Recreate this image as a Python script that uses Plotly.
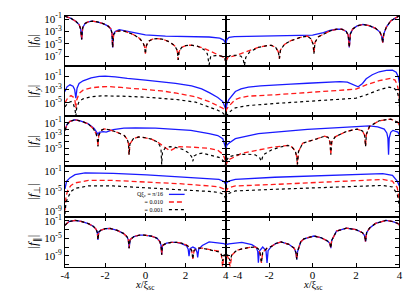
import plotly.graph_objects as go

W, H = 415, 291
FONT = "Liberation Serif"

# ---------------- data: (x, log10|f|) pairs ----------------
legend_text = "Q\u03be<sub>c</sub> = \u03c0/16<br>= 0.010<br>= 0.001"
x_title = "<i>x</i>/\u03be<sub>sc</sub>"
x_ticks = [-4, -2, 0, 2, 4]
x_ticktext_left = ["-4", "-2", "0", "2", "4"]
x_ticktext_right = ["", "-2", "0", "2", "4"]
x_label_right_first = "-4"
row_titles = ["|<i>f</i><sub>0</sub>|", "|<i>f</i><sub><i>y</i></sub>|", "|<i>f</i><sub><i>z</i></sub>|",
              "|<i>f</i><sub>\u22a5</sub>|", "|<i>f</i><sub>\u2225</sub>|"]
row_ranges = [[-8.6, -0.5], [-7.0, 0.5], [-7.8, 0.0], [-10.0, 0.0], [-11.5, 0.0]]
row_tick_exps = [[-1, -3, -5, -7], [-1, -3, -5], [-1, -2, -3, -4, -5, -6, -7],
                 [-1, -3, -5, -7, -9], [-1, -3, -5, -7, -9, -11]]
row_label_exps = [[-1, -3, -5, -7], [-1, -3, -5], [-1, -3, -5], [-1, -5, -9], [-1, -5, -9]]

# Row 1: |f0|
f0_L_blue = [(-4, -0.55), (-3.7, -0.9), (-3.45, -1.4), (-3.3, -1.9), (-3.22, -2.6), (-3.17, -4.3), (-3.12, -2.4),
             (-3.0, -1.7), (-2.85, -1.45), (-2.65, -1.35), (-2.4, -1.45), (-2.1, -1.75), (-1.85, -2.15), (-1.72, -2.6),
             (-1.66, -3.3), (-1.63, -5.6), (-1.58, -3.4), (-1.5, -3.0), (-1.3, -2.7), (-1.0, -2.9), (-0.5, -3.3),
             (0, -3.55), (1, -3.75), (2, -3.85), (3.17, -3.9), (3.7, -4.1), (3.9, -4.4), (4, -5.0)]
f0_L_red = [(-4, -0.55), (-3.7, -0.9), (-3.45, -1.4), (-3.3, -1.9), (-3.22, -2.6), (-3.17, -4.3), (-3.12, -2.4),
            (-3.0, -1.7), (-2.85, -1.45), (-2.65, -1.35), (-2.4, -1.45), (-2.1, -1.75), (-1.85, -2.15), (-1.72, -2.6),
            (-1.66, -3.3), (-1.63, -5.6), (-1.58, -3.5), (-1.45, -3.0), (-1.25, -2.9), (-1.0, -3.0), (-0.6, -3.5),
            (-0.3, -4.1), (-0.12, -4.8), (-0.04, -5.5), (0, -6.6), (0.05, -5.3), (0.15, -4.6), (0.35, -4.25),
            (0.6, -4.15), (0.9, -4.3), (1.2, -4.7), (1.45, -5.3), (1.56, -5.9), (1.6, -6.5), (1.63, -7.6),
            (1.67, -6.3), (1.8, -5.6), (2.0, -5.3), (2.25, -5.2), (2.6, -5.4), (3.0, -5.85), (3.4, -6.4),
            (3.7, -6.8), (3.9, -7.2), (4.0, -7.85)]
f0_L_black = [(-4, -0.55), (-3.7, -0.9), (-3.45, -1.4), (-3.3, -1.9), (-3.22, -2.6), (-3.17, -4.3), (-3.12, -2.4),
              (-3.0, -1.7), (-2.85, -1.45), (-2.65, -1.35), (-2.4, -1.45), (-2.1, -1.75), (-1.85, -2.15), (-1.72, -2.6),
              (-1.66, -3.3), (-1.63, -5.6), (-1.58, -3.5), (-1.45, -3.0), (-1.25, -2.9), (-1.0, -3.0), (-0.6, -3.5),
              (-0.3, -4.1), (-0.12, -4.8), (-0.04, -5.5), (0, -6.6), (0.05, -5.3), (0.15, -4.6), (0.35, -4.25),
              (0.6, -4.15), (0.9, -4.3), (1.2, -4.7), (1.45, -5.3), (1.56, -5.9), (1.6, -6.5), (1.63, -7.6),
              (1.67, -6.3), (1.8, -5.6), (2.0, -5.3), (2.25, -5.2), (2.6, -5.4), (2.9, -5.9), (3.08, -6.6),
              (3.17, -8.4), (3.25, -7.0), (3.5, -6.9), (3.8, -7.0), (3.93, -7.3), (4.0, -7.9)]
f0_R_blue = [(-4, -5.0), (-3.95, -4.3), (-3.85, -3.95), (-3.6, -3.85), (-3, -3.8), (-2, -3.75), (-1, -3.7),
             (0, -3.6), (0.5, -3.2), (0.8, -2.85), (1.1, -2.65), (1.35, -2.65), (1.55, -3.0), (1.64, -3.6),
             (1.69, -5.6), (1.74, -3.4), (1.85, -2.6), (2.05, -2.1), (2.32, -1.88), (2.6, -2.05), (2.9, -2.5),
             (3.1, -3.1), (3.19, -3.8), (3.23, -4.8), (3.28, -3.4), (3.4, -2.3), (3.6, -1.3), (3.8, -0.8), (4, -0.45)]
f0_R_red = [(-4, -7.85), (-3.9, -7.2), (-3.56, -6.9), (-3.0, -6.2), (-2.5, -5.58), (-2.1, -5.3), (-1.9, -5.25),
            (-1.7, -5.6), (-1.58, -6.3), (-1.53, -7.4), (-1.48, -6.0), (-1.3, -5.1), (-1.0, -4.5), (-0.6, -4.0),
            (-0.24, -3.75), (-0.08, -4.2), (0.02, -5.0), (0.06, -6.6), (0.11, -4.8), (0.25, -3.9), (0.5, -3.4),
            (0.81, -2.9), (1.1, -2.65), (1.35, -2.65), (1.55, -3.0), (1.64, -3.6), (1.69, -5.6), (1.74, -3.4),
            (1.85, -2.6), (2.05, -2.1), (2.32, -1.88), (2.6, -2.05), (2.9, -2.5), (3.1, -3.1), (3.19, -3.8),
            (3.23, -4.8), (3.28, -3.4), (3.4, -2.3), (3.6, -1.3), (3.8, -0.8), (4, -0.45)]
f0_R_black = [(-4, -8.0), (-3.92, -7.2), (-3.8, -6.9), (-3.5, -6.85), (-3.3, -7.0), (-3.2, -7.5), (-3.14, -8.5),
              (-3.08, -7.2), (-2.9, -6.3), (-2.5, -5.58), (-2.1, -5.3), (-1.9, -5.25),
              (-1.7, -5.6), (-1.58, -6.3), (-1.53, -7.4), (-1.48, -6.0), (-1.3, -5.1), (-1.0, -4.5), (-0.6, -4.0),
              (-0.24, -3.75), (-0.08, -4.2), (0.02, -5.0), (0.06, -6.6), (0.11, -4.8), (0.25, -3.9), (0.5, -3.4),
              (0.81, -2.9), (1.1, -2.65), (1.35, -2.65), (1.55, -3.0), (1.64, -3.6), (1.69, -5.6), (1.74, -3.4),
              (1.85, -2.6), (2.05, -2.1), (2.32, -1.88), (2.6, -2.05), (2.9, -2.5), (3.1, -3.1), (3.19, -3.8),
              (3.23, -4.8), (3.28, -3.4), (3.4, -2.3), (3.6, -1.3), (3.8, -0.8), (4, -0.45)]

# Row 2: |fy|
fy_L_blue = [(-4, -3.3), (-3.9, -2.6), (-3.75, -2.3), (-3.6, -2.5), (-3.52, -3.0), (-3.46, -4.3), (-3.4, -2.8),
             (-3.3, -2.1), (-3.1, -1.7), (-2.7, -1.25), (-2.3, -1.05), (-2.0, -1.0), (-1.5, -1.1), (-0.9, -1.35),
             (0, -1.6), (0.7, -1.8), (1.5, -2.1), (2.3, -2.45), (2.8, -2.9), (3.2, -3.5), (3.6, -4.2),
             (3.85, -4.8), (4, -6.0)]
fy_L_red = [(-4, -5.0), (-3.85, -4.2), (-3.7, -3.9), (-3.56, -4.2), (-3.5, -4.7), (-3.46, -5.8), (-3.42, -4.6),
            (-3.3, -3.6), (-3.1, -3.1), (-2.7, -2.75), (-2.2, -2.6), (-1.87, -2.56), (-1.2, -2.7), (-0.1, -2.95),
            (0.8, -3.2), (1.55, -3.55), (2.5, -4.1), (3.17, -4.8), (3.6, -5.4), (3.85, -5.8), (4, -6.3)]
fy_L_black = [(-4, -5.6), (-3.85, -5.0), (-3.7, -4.8), (-3.58, -5.2), (-3.5, -6.0), (-3.46, -7.0), (-3.42, -5.8),
              (-3.3, -4.8), (-3.1, -4.4), (-2.7, -4.1), (-2.2, -3.95), (-1.87, -3.93), (-1.2, -4.0), (-0.1, -4.13),
              (0.8, -4.3), (1.55, -4.5), (2.5, -4.9), (3.17, -5.6), (3.6, -6.1), (3.85, -6.5), (4, -7.0)]
fy_R_blue = [(-4, -6.0), (-3.95, -5.2), (-3.86, -4.5), (-3.7, -3.8), (-3.56, -3.3), (-3.3, -2.9), (-2.96, -2.66),
             (-2.4, -2.45), (-1.75, -2.3), (-1.0, -2.2), (-0.24, -2.07), (0.5, -1.95), (1.26, -1.82), (1.6, -1.9),
             (1.85, -2.2), (2.1, -2.6), (2.3, -2.1), (2.47, -1.4), (2.75, -0.8), (3.07, -0.35), (3.4, -0.15),
             (3.68, -0.1), (3.85, -0.4), (3.95, -1.1), (4, -2.0)]
fy_R_red = [(-4, -6.3), (-3.95, -5.9), (-3.86, -5.5), (-3.7, -4.9), (-3.56, -4.5), (-3.3, -4.2), (-2.96, -4.0),
            (-1.75, -3.8), (-0.24, -3.44), (1.26, -3.15), (2.0, -2.95), (2.47, -2.3), (3.07, -1.68), (3.6, -1.34),
            (3.8, -1.6), (3.9, -2.3), (3.97, -3.3), (4, -4.5)]
fy_R_black = [(-4, -7.0), (-3.95, -6.9), (-3.86, -6.5), (-3.7, -6.0), (-3.56, -5.75), (-2.96, -5.4), (-1.75, -5.1),
              (-0.24, -4.77), (1.5, -4.5), (2.0, -4.3), (2.47, -3.8), (3.07, -3.05), (3.52, -2.66), (3.75, -2.8),
              (3.9, -3.3), (3.97, -4.3), (4, -5.5)]

# Row 3: |fz|
fz_L_blue = [(-4, -2.2), (-3.9, -1.3), (-3.75, -0.8), (-3.5, -0.55), (-3.2, -0.75), (-2.84, -1.2), (-2.55, -1.9),
             (-2.42, -2.5), (-2.36, -2.8), (-2.3, -2.5), (-2.1, -2.4), (-1.95, -2.47), (-1.6, -2.1), (-1.07, -1.86),
             (-0.5, -1.8), (0.5, -1.85), (1.5, -2.0), (2.26, -2.2), (3.17, -2.7), (3.6, -3.0), (3.85, -3.5),
             (4, -5.0)]
fz_L_red = [(-4, -2.2), (-3.9, -1.3), (-3.75, -0.8), (-3.5, -0.55), (-3.2, -0.75), (-2.84, -1.2), (-2.6, -1.9),
            (-2.45, -2.7), (-2.39, -3.5), (-2.36, -4.7), (-2.32, -3.0), (-2.2, -2.2), (-2.05, -1.96), (-1.8, -2.1),
            (-1.4, -2.5), (-1.05, -3.0), (-0.9, -3.6), (-0.84, -4.3), (-0.81, -6.0), (-0.77, -4.3), (-0.6, -3.5),
            (-0.33, -3.22), (0.0, -3.35), (0.3, -3.57), (0.6, -4.0), (0.8, -4.5), (1.0, -5.0), (1.22, -5.4),
            (1.45, -5.0), (1.71, -4.74), (2.3, -4.8), (3.17, -5.0), (3.6, -5.3), (3.85, -5.9), (3.95, -6.6),
            (4, -7.8)]
fz_L_black = [(-4, -2.2), (-3.9, -1.3), (-3.75, -0.8), (-3.5, -0.55), (-3.2, -0.75), (-2.84, -1.2), (-2.6, -1.9),
              (-2.45, -2.7), (-2.39, -3.5), (-2.36, -4.7), (-2.32, -3.0), (-2.2, -2.2), (-2.05, -1.96), (-1.8, -2.1),
              (-1.4, -2.5), (-1.05, -3.0), (-0.9, -3.6), (-0.84, -4.3), (-0.81, -6.0), (-0.77, -4.3), (-0.6, -3.5),
              (-0.33, -3.22), (0.0, -3.35), (0.3, -3.57), (0.6, -4.0), (0.72, -4.6), (0.78, -5.3), (0.81, -7.5),
              (0.85, -5.5), (1.0, -4.9), (1.22, -4.74), (1.5, -4.85), (1.9, -5.2), (2.15, -5.7), (2.3, -6.3),
              (2.36, -7.0), (2.42, -6.2), (2.6, -5.85), (2.83, -5.75), (3.17, -6.0), (3.66, -6.4), (3.9, -7.0),
              (4, -7.8)]
fz_R_blue = [(-4, -5.0), (-3.95, -4.5), (-3.86, -4.2), (-3.56, -3.5), (-2.5, -2.7), (-1.3, -2.35), (-0.24, -2.06),
             (1.0, -1.8), (2.0, -1.56), (2.62, -1.5), (3.0, -1.65), (3.3, -2.0), (3.42, -2.6), (3.47, -3.4),
             (3.5, -6.0), (3.53, -3.4), (3.6, -2.5), (3.7, -2.2), (3.93, -2.47), (4, -2.9)]
fz_R_red = [(-4, -7.8), (-3.95, -7.2), (-3.86, -6.76), (-3.26, -5.75), (-2.5, -5.25), (-1.9, -4.85), (-1.3, -4.6),
            (-1.14, -4.55), (-0.95, -4.8), (-0.8, -5.4), (-0.74, -6.2), (-0.7, -7.5), (-0.65, -5.5), (-0.46, -4.2),
            (0.21, -3.5), (0.55, -3.1), (0.72, -3.3), (0.8, -4.0), (0.84, -6.0), (0.88, -4.0), (1.04, -3.2),
            (1.56, -2.36), (2.05, -2.0), (2.3, -2.3), (2.4, -3.0), (2.44, -4.7), (2.48, -2.8), (2.62, -1.6),
            (3.07, -0.7), (3.6, -0.45), (3.93, -0.95), (4, -1.45)]
fz_R_black = [(-4, -7.8), (-3.95, -6.8), (-3.86, -6.3), (-3.5, -6.0), (-3.0, -5.9), (-2.65, -6.0), (-2.45, -6.4),
              (-2.36, -7.0), (-2.28, -6.0), (-1.9, -5.25), (-1.5, -4.8), (-1.3, -4.6),
              (-1.14, -4.55), (-0.95, -4.8), (-0.8, -5.4), (-0.74, -6.2), (-0.7, -7.5), (-0.65, -5.5), (-0.46, -4.2),
              (0.21, -3.5), (0.55, -3.1), (0.72, -3.3), (0.8, -4.0), (0.84, -6.0), (0.88, -4.0), (1.04, -3.2),
              (1.56, -2.36), (2.05, -2.0), (2.3, -2.3), (2.4, -3.0), (2.44, -4.7), (2.48, -2.8), (2.62, -1.6),
              (3.07, -0.7), (3.6, -0.45), (3.93, -0.95), (4, -1.45)]

# Row 4: |f_perp|
fp_L_blue = [(-4, -4.5), (-3.92, -3.0), (-3.76, -2.3), (-3.5, -1.64), (-3.0, -1.3), (-1.6, -1.4), (0.07, -1.7),
             (1.7, -2.1), (3.17, -2.4), (3.66, -2.6), (3.9, -3.0), (4, -3.6)]
fp_L_red = [(-4, -8.8), (-3.95, -6.0), (-3.85, -4.6), (-3.7, -3.8), (-3.5, -3.3), (-2.84, -2.8), (-1.6, -2.8),
            (0.07, -3.07), (1.7, -3.46), (3.17, -3.9), (3.66, -4.1), (3.9, -4.5), (4, -5.4)]
fp_L_black = [(-4, -9.5), (-3.95, -7.2), (-3.85, -6.2), (-3.7, -5.0), (-3.5, -4.4), (-2.84, -3.9), (-1.6, -3.9),
              (0.07, -4.24), (1.7, -4.57), (3.17, -5.0), (3.66, -5.2), (3.9, -5.6), (4, -6.5)]
fp_R_blue = [(-4, -3.6), (-3.95, -3.2), (-3.86, -2.95), (-3.56, -2.6), (-1.75, -2.17), (0.51, -1.84),
             (2.77, -1.5), (3.23, -1.45), (3.68, -1.8), (3.9, -2.95), (4, -3.9)]
fp_R_red = [(-4, -5.2), (-3.95, -4.6), (-3.86, -4.24), (-3.56, -3.9), (-1.75, -3.6), (0.51, -3.14),
            (2.77, -2.75), (3.23, -2.6), (3.68, -2.95), (3.9, -4.24), (4, -6.85)]
fp_R_black = [(-4, -6.5), (-3.95, -5.8), (-3.86, -5.4), (-3.56, -4.9), (-1.75, -4.57), (0.51, -4.24),
              (2.77, -3.9), (3.23, -3.8), (3.68, -4.1), (3.9, -5.5), (4, -8.1)]

# Row 5: |f_par|
fl_L_blue = [(-4, -1.99), (-3.8, -1.15), (-3.5, -0.89), (-3.2, -1.11), (-2.84, -1.62), (-2.6, -2.21), (-2.45, -2.92),
             (-2.39, -3.72), (-2.36, -5.37), (-2.32, -3.54), (-2.2, -3.10), (-2.0, -2.79), (-1.76, -2.74),
             (-1.4, -3.19), (-1.1, -3.86), (-0.92, -4.60), (-0.85, -5.31), (-0.81, -7.26), (-0.76, -5.31),
             (-0.57, -4.60), (-0.3, -4.29), (-0.08, -4.25), (0.3, -4.51), (0.57, -4.96), (0.72, -5.75),
             (0.78, -6.64), (0.81, -8.76), (0.85, -6.64), (1.05, -6.11), (1.3, -5.93), (1.55, -5.93),
             (1.8, -6.20), (2.05, -6.73), (2.13, -7.52), (2.17, -9.12), (2.22, -7.35), (2.36, -6.99),
             (2.5, -7.35), (2.57, -8.23), (2.6, -9.38), (2.65, -7.52), (2.83, -6.64), (3.17, -5.84),
             (3.66, -6.11), (3.9, -6.20), (4, -6.46)]
fl_L_red = [(-4, -1.99), (-3.8, -1.15), (-3.5, -0.89), (-3.2, -1.11), (-2.84, -1.62), (-2.6, -2.21), (-2.45, -2.92),
            (-2.39, -3.72), (-2.36, -5.37), (-2.32, -3.54), (-2.2, -3.10), (-2.0, -2.79), (-1.76, -2.74),
            (-1.4, -3.19), (-1.1, -3.86), (-0.92, -4.60), (-0.85, -5.31), (-0.81, -7.26), (-0.76, -5.31),
            (-0.57, -4.60), (-0.3, -4.29), (-0.08, -4.25), (0.3, -4.51), (0.57, -4.96), (0.72, -5.75),
            (0.78, -6.64), (0.81, -8.76), (0.85, -6.64), (1.05, -6.11), (1.3, -5.93), (1.55, -5.93),
            (1.8, -6.11), (2.04, -6.55), (2.2, -7.08), (2.3, -7.79), (2.36, -9.74), (2.42, -7.79), (2.6, -7.26),
            (2.83, -7.26), (3.17, -7.61), (3.66, -7.97), (3.78, -8.85), (3.84, -11.5), (3.9, -9.12), (4, -8.85)]
fl_L_black = [(-4, -1.99), (-3.8, -1.15), (-3.5, -0.89), (-3.2, -1.11), (-2.84, -1.62), (-2.6, -2.21),
              (-2.45, -2.92), (-2.39, -3.72), (-2.36, -5.37), (-2.32, -3.54), (-2.2, -3.10), (-2.0, -2.79),
              (-1.76, -2.74), (-1.4, -3.19), (-1.1, -3.86), (-0.92, -4.60), (-0.85, -5.31), (-0.81, -7.26),
              (-0.76, -5.31), (-0.57, -4.60), (-0.3, -4.29), (-0.08, -4.25), (0.3, -4.51), (0.57, -4.96),
              (0.72, -5.75), (0.78, -6.64), (0.81, -8.76), (0.85, -6.64), (1.05, -6.11), (1.3, -5.93),
              (1.55, -5.93), (1.8, -6.11), (2.04, -6.55), (2.2, -7.08), (2.3, -7.79), (2.36, -9.74), (2.42, -7.79),
              (2.6, -7.26), (2.83, -7.26), (3.17, -7.61), (3.66, -8.14), (3.78, -8.67), (3.84, -10.18),
              (3.9, -8.85), (4, -8.67)]
fl_R_blue = [(-4, -6.46), (-3.86, -6.28), (-3.26, -5.93), (-2.8, -6.46), (-2.6, -7.08), (-2.53, -7.97),
             (-2.5, -10.62), (-2.46, -7.97), (-2.3, -6.99), (-2.15, -7.79), (-2.1, -10.62), (-2.05, -7.79),
             (-1.9, -6.86), (-1.7, -6.20), (-1.45, -5.84), (-1.1, -6.37), (-0.85, -7.26), (-0.77, -8.23),
             (-0.73, -9.82), (-0.69, -7.97), (-0.55, -5.84), (-0.4, -5.13), (0.06, -4.47), (0.4, -4.87),
             (0.7, -5.66), (0.8, -6.20), (0.84, -7.26), (0.88, -5.49), (1.1, -3.36), (1.56, -2.66), (2.0, -3.01),
             (2.3, -3.72), (2.4, -4.43), (2.44, -5.75), (2.49, -3.72), (2.62, -2.66), (2.9, -1.59), (3.38, -0.89),
             (3.7, -1.15), (3.93, -1.59), (4, -1.95)]
fl_R_red = [(-4, -8.85), (-3.9, -9.29), (-3.8, -11.5), (-3.72, -8.85), (-3.5, -7.79), (-3.26, -7.43),
            (-2.9, -7.08), (-2.65, -6.99), (-2.5, -7.43), (-2.42, -8.41), (-2.36, -10.62), (-2.3, -8.23),
            (-2.1, -7.26), (-1.9, -6.86), (-1.7, -6.20), (-1.45, -5.84), (-1.1, -6.37), (-0.85, -7.26),
            (-0.77, -8.23), (-0.73, -9.82), (-0.69, -7.97), (-0.55, -5.84), (-0.4, -5.13), (0.06, -4.47),
            (0.4, -4.87), (0.7, -5.66), (0.8, -6.20), (0.84, -7.26), (0.88, -5.49), (1.1, -3.36), (1.56, -2.66),
            (2.0, -3.01), (2.3, -3.72), (2.4, -4.43), (2.44, -5.75), (2.49, -3.72), (2.62, -2.66), (2.9, -1.59),
            (3.38, -0.89), (3.7, -1.15), (3.93, -1.59), (4, -1.95)]
fl_R_black = [(-4, -8.67), (-3.9, -8.85), (-3.8, -10.18), (-3.72, -8.67), (-3.5, -7.79), (-3.26, -7.43),
              (-2.9, -7.08), (-2.65, -6.99), (-2.5, -7.43), (-2.42, -8.41), (-2.36, -10.62), (-2.3, -8.23),
              (-2.1, -7.26), (-1.9, -6.86), (-1.7, -6.20), (-1.45, -5.84), (-1.1, -6.37), (-0.85, -7.26),
              (-0.77, -8.23), (-0.73, -9.82), (-0.69, -7.97), (-0.55, -5.84), (-0.4, -5.13), (0.06, -4.47),
              (0.4, -4.87), (0.7, -5.66), (0.8, -6.20), (0.84, -7.26), (0.88, -5.49), (1.1, -3.36), (1.56, -2.66),
              (2.0, -3.01), (2.3, -3.72), (2.4, -4.43), (2.44, -5.75), (2.49, -3.72), (2.62, -2.66), (2.9, -1.59),
              (3.38, -0.89), (3.7, -1.15), (3.93, -1.59), (4, -1.95)]

panels = [
    [(f0_L_blue, f0_L_red, f0_L_black), (f0_R_blue, f0_R_red, f0_R_black)],
    [(fy_L_blue, fy_L_red, fy_L_black), (fy_R_blue, fy_R_red, fy_R_black)],
    [(fz_L_blue, fz_L_red, fz_L_black), (fz_R_blue, fz_R_red, fz_R_black)],
    [(fp_L_blue, fp_L_red, fp_L_black), (fp_R_blue, fp_R_red, fp_R_black)],
    [(fl_L_blue, fl_L_red, fl_L_black), (fl_R_blue, fl_R_red, fl_R_black)],
]

# ---------------- styling ----------------
line_styles = [dict(color="#1a1aff", width=1.3, dash="solid"),
               dict(color="#ff1a1a", width=1.3, dash="5px,3px"),
               dict(color="#000000", width=1.2, dash="3px,3px")]

fig = go.Figure()
x_domains = [[53 / W, 217 / W], [217 / W, 394 / W]]
top0, row_h = 3.0, 51.2

for r in range(5):
    top = top0 + r * row_h
    bot = top + row_h
    y_dom = [1 - bot / H, 1 - top / H]
    for c in range(2):
        k = r * 2 + c + 1
        sfx = "" if k == 1 else str(k)
        for s, pts in enumerate(panels[r][c]):
            xs = [p[0] for p in pts]
            ys = [10 ** p[1] for p in pts]
            fig.add_trace(go.Scatter(x=xs, y=ys, mode="lines", line=line_styles[s],
                                     xaxis="x" + sfx, yaxis="y" + sfx, showlegend=False,
                                     hoverinfo="skip"))
        xa = dict(domain=x_domains[c], anchor="y" + sfx, range=[-4, 4], tickmode="array",
                  tickvals=x_ticks, ticks="inside", ticklen=4, tickcolor="black",
                  showline=True, linecolor="black", linewidth=1, mirror="ticks",
                  showgrid=False, zeroline=False, showticklabels=(r == 4),
                  tickfont=dict(family=FONT, size=11, color="black"))
        if r == 4:
            xa["ticktext"] = x_ticktext_left if c == 0 else x_ticktext_right
            xa["ticklabelstandoff"] = -2
        ya = dict(domain=y_dom, anchor="x" + sfx, type="log", range=row_ranges[r],
                  tickmode="array", tickvals=[10.0 ** e for e in row_tick_exps[r]],
                  ticktext=[("10<sup>%d</sup>" % e) if e in row_label_exps[r] else "" for e in row_tick_exps[r]],
                  ticks="inside", ticklen=4, tickcolor="black",
                  showline=True, linecolor="black", linewidth=1, mirror="ticks",
                  showgrid=False, zeroline=False, showticklabels=(c == 0),
                  tickfont=dict(family=FONT, size=11, color="black"))
        if c == 0:
            ya["title"] = dict(text=row_titles[r], standoff=3,
                               font=dict(family=FONT, size=13, color="black"))
        fig.layout["xaxis" + sfx] = xa
        fig.layout["yaxis" + sfx] = ya

# x-axis titles under each column, kept inside the page
for c in range(2):
    fig.add_annotation(x=sum(x_domains[c]) / 2, y=0, xref="paper", yref="paper", text=x_title,
                       showarrow=False, xanchor="center", yanchor="bottom", yshift=5, borderpad=0,
                       font=dict(family=FONT, size=10.5, color="black"))

# the right panel's "-4" label is set a little to the right, as in the reference
fig.add_annotation(x=229 / W, y=1 - 268 / H, xref="paper", yref="paper", text=x_label_right_first,
                   showarrow=False, xanchor="center", yanchor="middle", borderpad=0,
                   font=dict(family=FONT, size=11, color="black"))

# compact legend (row 4, left panel): text on the left, line samples on the right
legend_center_px = 193.0
legend_line_gap = 7.8
fig.add_annotation(x=154 / W, y=1 - legend_center_px / H, xref="paper", yref="paper", text=legend_text,
                   showarrow=False, xanchor="right", yanchor="middle", align="right", borderpad=0,
                   font=dict(family=FONT, size=6, color="black"))
for i, st in enumerate(line_styles):
    yp = 1 - (legend_center_px + (i - 1) * legend_line_gap) / H
    fig.add_shape(type="line", xref="paper", yref="paper", x0=159 / W, x1=175 / W, y0=yp, y1=yp,
                  line=dict(color=st["color"], width=st["width"], dash=st["dash"]))

fig.update_layout(width=W, height=H, margin=dict(l=0, r=0, t=0, b=0),
                  paper_bgcolor="white", plot_bgcolor="white",
                  font=dict(family=FONT, color="black"), showlegend=False)

fig.write_html("out.html")
